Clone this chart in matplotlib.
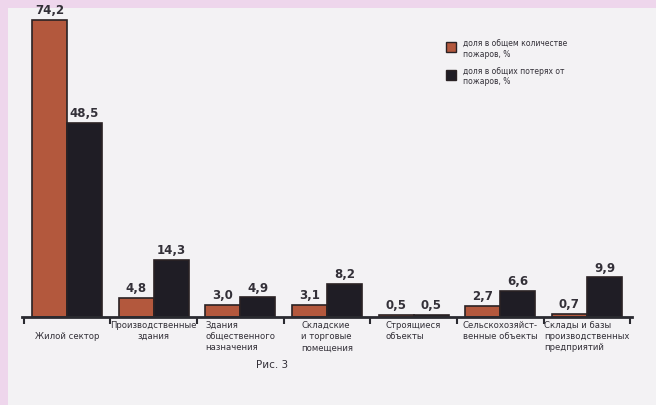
import matplotlib.pyplot as plt
import numpy as np
from matplotlib.patches import Rectangle

# data
categories = [
    "\nЖилой сектор",
    "Производственные\nздания",
    "Здания\nобщественного\nназначения",
    "Складские\nи торговые\nпомещения",
    "Строящиеся\nобъекты",
    "Сельскохозяйст-\nвенные объекты",
    "Склады и базы\nпроизводственных\nпредприятий",
]
share_count = [74.2, 4.8, 3.0, 3.1, 0.5, 2.7, 0.7]
share_loss = [48.5, 14.3, 4.9, 8.2, 0.5, 6.6, 9.9]
label_count = "доля в общем количестве\nпожаров, %"
label_loss = "доля в общих потерях от\nпожаров, %"

orange = "#b3583d"
dark = "#1f1d25"
edge = "#2a2224"
text_col = "#333038"

fig = plt.figure(figsize=(6.56, 4.05), dpi=100)
fig.patch.set_facecolor("#eed6ec")
# scanned page panel
fig.patches.append(Rectangle((8 / 656, 0), 1, 1 - 8 / 405, transform=fig.transFigure,
                             facecolor="#f3f2f4", edgecolor="none", zorder=-5))

ax = fig.add_axes([22 / 656, 88 / 405, 610 / 656, 314 / 405])
ax.set_facecolor("none")
ax.set_zorder(2)

x = np.arange(len(categories))
w = 0.405
b1 = ax.bar(x - w / 2, share_count, w, color=orange, edgecolor=edge, linewidth=1.2)
b2 = ax.bar(x + w / 2, share_loss, w, color=dark, edgecolor=edge, linewidth=1.2)

for bars, vals in ((b1, share_count), (b2, share_loss)):
    for r, v in zip(bars, vals):
        ax.annotate(f"{v:.1f}".replace(".", ","), (r.get_x() + r.get_width() / 2, v),
                    xytext=(0, 2), textcoords="offset points", ha="center", va="bottom",
                    fontsize=8.5, fontweight="bold", color=text_col, annotation_clip=False)

ax.set_xlim(-0.52, len(categories) - 0.48)
ax.set_ylim(0, 78.5)
for s in ("top", "right", "left"):
    ax.spines[s].set_visible(False)
ax.spines["bottom"].set_linewidth(2)
ax.spines["bottom"].set_color("#2a2a30")
ax.set_yticks([])
ax.set_xticks(np.arange(len(categories) + 1) - 0.5)
ax.set_xticklabels([])
ax.tick_params(axis="x", length=5, width=1.5, color="#2a2a30", direction="out")

for i, c in enumerate(categories):
    ma = "center" if i == 1 else "left"
    ax.annotate(c, (i, 0), xycoords=("data", "axes fraction"), xytext=(0, -3),
                textcoords="offset points", ha="center", va="top", multialignment=ma,
                fontsize=6.1, color=text_col, linespacing=1.3)

# legend
fig.patches.append(Rectangle((446 / 656, 1 - 52 / 405), 10 / 656, 10 / 405,
                             transform=fig.transFigure, facecolor=orange, edgecolor=edge, lw=1))
fig.patches.append(Rectangle((446 / 656, 1 - 80 / 405), 10 / 656, 10 / 405,
                             transform=fig.transFigure, facecolor=dark, edgecolor=edge, lw=1))
fig.text(463 / 656, 1 - 40 / 405, label_count, fontsize=5.5, va="top", color=text_col, linespacing=1.2)
fig.text(463 / 656, 1 - 67 / 405, label_loss, fontsize=5.5, va="top", color=text_col, linespacing=1.2)

fig.text(272 / 656, 1 - 365 / 405, "Рис. 3", fontsize=7.5, va="center", ha="center", color=text_col)

fig.savefig("out.png", dpi=100, facecolor=fig.get_facecolor())
